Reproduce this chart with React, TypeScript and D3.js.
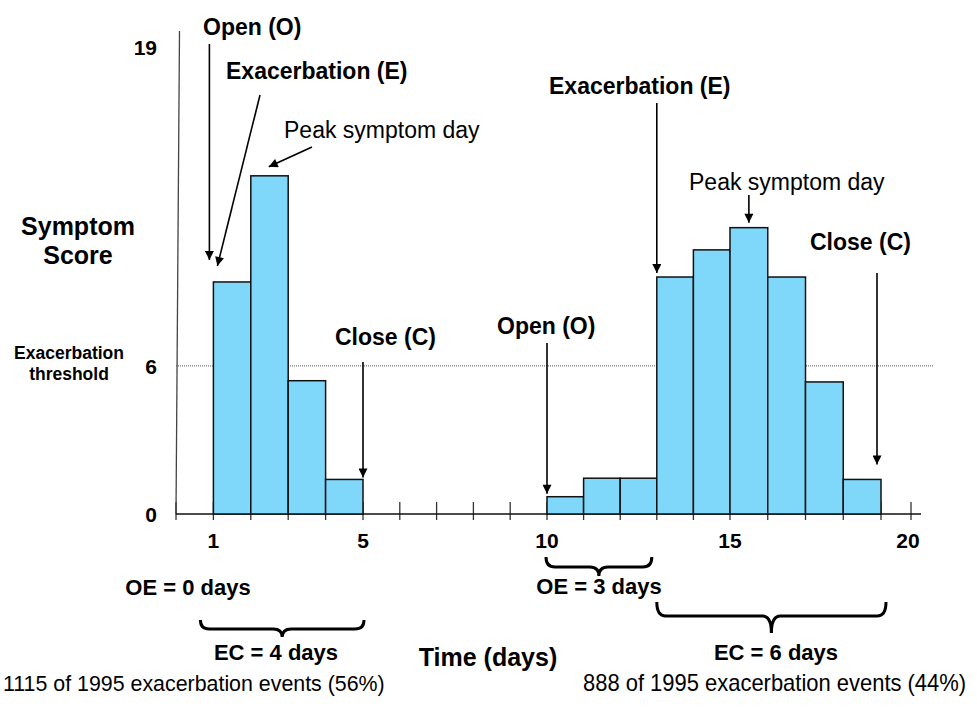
import * as d3 from "d3";

// first episode: days 1-4, second episode: days 10-18
const days1 = [1, 2, 3, 4];
const scores1 = [9.4, 13.7, 5.4, 1.4];
const days2 = [10, 11, 12, 13, 14, 15, 16, 17, 18];
const scores2 = [0.7, 1.45, 1.45, 9.6, 10.7, 11.6, 9.6, 5.35, 1.4];

const xTickLabels = [1, 5, 10, 15, 20];
const yTickLabels = [0, 6, 19];
const threshold = 6;

const W = 977;
const H = 707;
const FONT = "'Liberation Sans', Arial, sans-serif";

// the original is hand drawn, so day spacing is a little uneven
const x = d3.scaleLinear().domain([0, 5, 10, 15, 19, 20]).range([176, 363, 547, 730, 881, 911]);
const y = d3.scaleLinear().domain([0, 19]).range([514, 45]);

function brace(x0: number, x1: number, yTop: number, yMid: number, yPoint: number) {
  const r = 9;
  const xm = (x0 + x1) / 2;
  const p = d3.path();
  p.moveTo(x0, yTop);
  p.quadraticCurveTo(x0, yMid, x0 + r, yMid);
  p.lineTo(xm - r, yMid);
  p.quadraticCurveTo(xm, yMid, xm, yPoint);
  p.quadraticCurveTo(xm, yMid, xm + r, yMid);
  p.lineTo(x1 - r, yMid);
  p.quadraticCurveTo(x1, yMid, x1, yTop);
  return p.toString();
}

function Bars({ days, scores }: { days: number[]; scores: number[] }) {
  return (
    <g>
      {days.map((d, i) => (
        <rect
          key={d}
          x={x(d)}
          y={y(scores[i])}
          width={x(d + 1) - x(d)}
          height={y(0) - y(scores[i])}
          fill="#7fd8f9"
          stroke="#111"
          strokeWidth={1.5}
        />
      ))}
    </g>
  );
}

function Arrow({ x1, y1, x2, y2 }: { x1: number; y1: number; y2: number; x2: number }) {
  return <line x1={x1} y1={y1} x2={x2} y2={y2} stroke="#000" strokeWidth={1.6} markerEnd="url(#head)" />;
}

export default function App() {
  const y0 = y(0);
  const allDays = d3.range(0, 21);
  const bold = { fontFamily: FONT, fontWeight: 700 as const, fill: "#000" };
  const reg = { fontFamily: FONT, fontWeight: 400 as const, fill: "#000" };

  return (
    <svg width={W} height={H} style={{ position: "absolute", left: 0, top: 0, background: "#fff" }}>
      <defs>
        <marker id="head" viewBox="0 0 10 10" refX={10} refY={5} markerWidth={10} markerHeight={9}
          markerUnits="userSpaceOnUse" orient="auto">
          <path d="M0,0 L10,5 L0,10 z" fill="#000" />
        </marker>
      </defs>

      {/* threshold */}
      <line x1={x(0)} x2={933} y1={y(threshold)} y2={y(threshold)} stroke="#555" strokeWidth={1} strokeDasharray="1,1" />

      {/* axes */}
      <line x1={x(0) + 3.5} y1={31} x2={x(0)} y2={y0} stroke="#444" strokeWidth={1.3} />
      {allDays.map((d) => (
        <line key={d} x1={x(d)} x2={x(d)} y1={y0 - 12} y2={y0 + 6} stroke="#333" strokeWidth={1.3} />
      ))}
      <line x1={x(0)} x2={921} y1={y0} y2={y0} stroke="#111" strokeWidth={1.6} />

      <Bars days={days1} scores={scores1} />
      <Bars days={days2} scores={scores2} />

      {/* axis labels */}
      {yTickLabels.map((v) => (
        <text key={v} x={157} y={y(v) + (v === 19 ? 10 : 8)} textAnchor="end" fontSize={21} {...bold}>{v}</text>
      ))}
      {xTickLabels.map((v) => (
        <text key={v} x={x(v) - (v === 20 ? 3 : 0)} y={548} textAnchor="middle" fontSize={21} {...bold}>{v}</text>
      ))}
      <text x={78} textAnchor="middle" fontSize={25} {...bold}>
        <tspan x={78} y={235}>Symptom</tspan>
        <tspan x={78} y={264}>Score</tspan>
      </text>
      <text x={69} textAnchor="middle" fontSize={17.5} {...bold}>
        <tspan x={69} y={359}>Exacerbation</tspan>
        <tspan x={69} y={380}>threshold</tspan>
      </text>
      <text x={488} y={666} textAnchor="middle" fontSize={25} {...bold}>Time (days)</text>

      {/* first episode annotations */}
      <text x={203} y={35} fontSize={23} {...bold}>Open (O)</text>
      <Arrow x1={x(1) - 4} y1={44} x2={x(1) - 4} y2={y(scores1[0]) - 22} />
      <text x={226} y={79} fontSize={23} {...bold}>Exacerbation (E)</text>
      <Arrow x1={260} y1={95} x2={x(1) + 4} y2={y(scores1[0]) - 16} />
      <text x={284} y={138} fontSize={23} {...reg}>Peak symptom day</text>
      <Arrow x1={312} y1={147} x2={x(2) + 18} y2={y(scores1[1]) - 9} />
      <text x={335} y={345} fontSize={23} {...bold}>Close (C)</text>
      <Arrow x1={x(5)} y1={362} x2={x(5)} y2={y(scores1[3]) - 2} />

      {/* second episode annotations */}
      <text x={497} y={334} fontSize={23} {...bold}>Open (O)</text>
      <Arrow x1={x(10)} y1={343} x2={x(10)} y2={y(scores2[0]) - 3} />
      <text x={549} y={94} fontSize={23} {...bold}>Exacerbation (E)</text>
      <Arrow x1={x(13)} y1={103} x2={x(13)} y2={y(scores2[3]) - 4} />
      <text x={689} y={190} fontSize={23} {...reg}>Peak symptom day</text>
      <Arrow x1={x(15.5)} y1={195} x2={x(15.5)} y2={y(scores2[5]) - 5} />
      <text x={810} y={250} fontSize={23} {...bold}>Close (C)</text>
      <Arrow x1={x(19) - 4} y1={273} x2={x(19) - 4} y2={y(scores2[8]) - 15} />

      {/* durations */}
      <text x={188} y={595} textAnchor="middle" fontSize={22} {...bold}>OE = 0 days</text>
      <path d={brace(x(1) - 13, x(5) + 1, 620, 629, 637)} fill="none" stroke="#000" strokeWidth={3} />
      <text x={276} y={660} textAnchor="middle" fontSize={22} {...bold}>EC = 4 days</text>

      <path d={brace(x(10) - 1, x(13) - 5, 557, 567, 576)} fill="none" stroke="#000" strokeWidth={3} />
      <text x={599} y={594} textAnchor="middle" fontSize={22} {...bold}>OE = 3 days</text>
      <path d={brace(x(13), x(19) + 5, 602, 616, 633)} fill="none" stroke="#000" strokeWidth={3} />
      <text x={776} y={660} textAnchor="middle" fontSize={22} {...bold}>EC = 6 days</text>

      {/* condensed footnotes */}
      <g transform="translate(3,691) scale(0.93,1)">
        <text x={0} y={0} fontSize={23} {...reg}>1115 of 1995 exacerbation events (56%)</text>
      </g>
      <g transform="translate(583,691) scale(0.955,1)">
        <text x={0} y={0} fontSize={23} {...reg}>888 of 1995 exacerbation events (44%)</text>
      </g>
    </svg>
  );
}
